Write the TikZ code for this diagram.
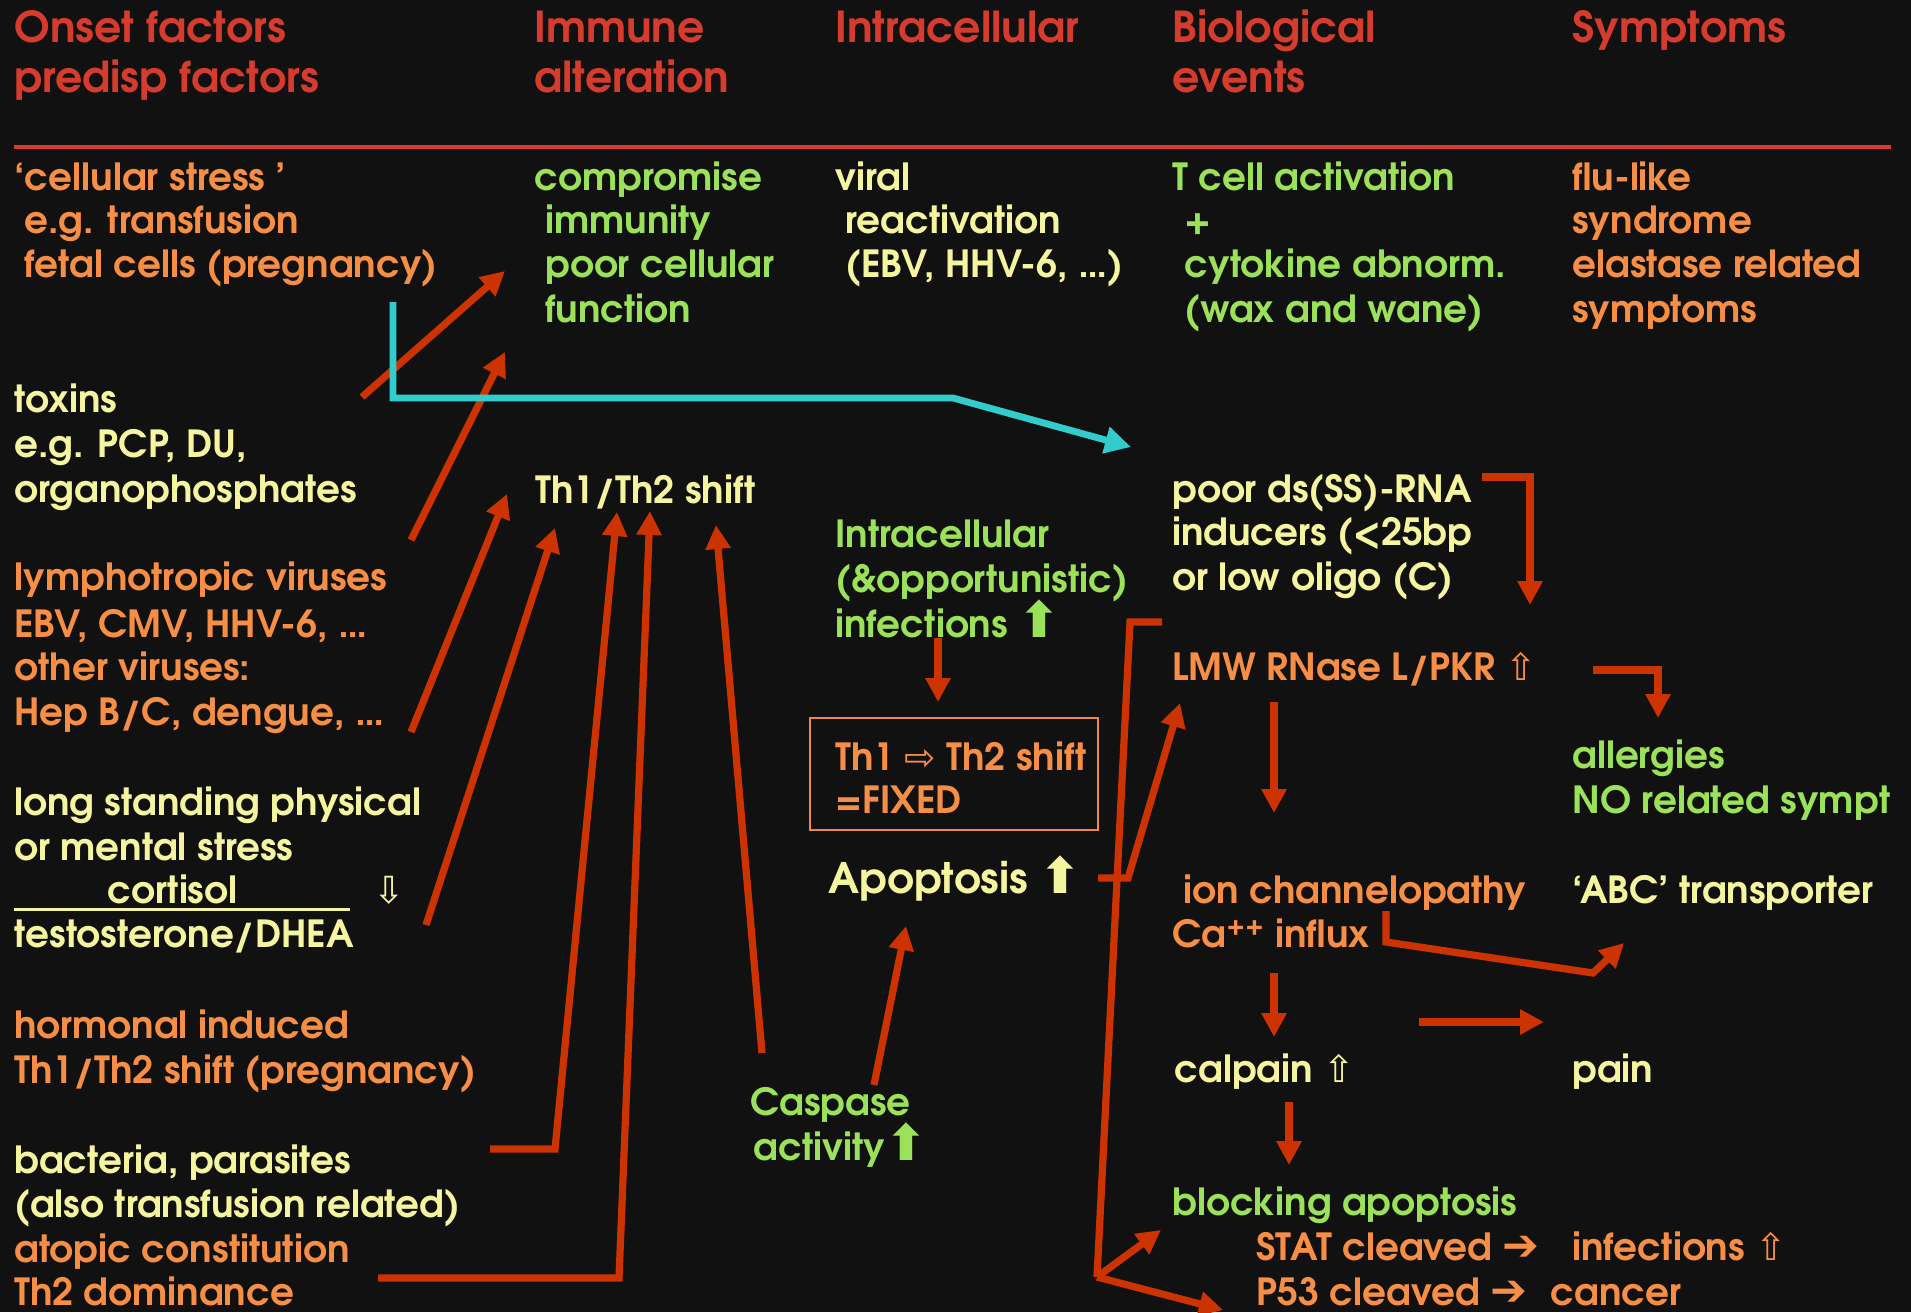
\documentclass[tikz,border=0pt]{standalone}
\usepackage{fontspec}
\setmainfont{texgyreadventor}[Extension=.otf, UprightFont=*-regular, BoldFont=*-bold, ItalicFont=*-italic, BoldItalicFont=*-bolditalic]
\newfontfamily\symf{DejaVu Sans}
\usetikzlibrary{arrows.meta}
\definecolor{bgc}{HTML}{111111}
\definecolor{hdrc}{HTML}{D63C2E}
\definecolor{orgc}{HTML}{F78E45}
\definecolor{yelc}{HTML}{F5F5A0}
\definecolor{grnc}{HTML}{9BE15A}
\definecolor{arrc}{HTML}{CC3300}
\definecolor{cyac}{HTML}{33CCCC}
\definecolor{boxc}{HTML}{F08A40}
\newcommand{\thk}{{\symf\bfseries\fontsize{25}{25}\selectfont ⬆}}
\newcommand{\hvy}{{\symf\bfseries\fontsize{22}{22}\selectfont ➔}}
\tikzset{
  txt/.style={anchor=base west, inner sep=0pt, font=\bfseries\fontsize{18.7}{22}\selectfont},
  hd/.style={txt, text=hdrc, font=\bfseries\fontsize{21.3}{25}\selectfont},
  org/.style={txt, text=orgc},
  yel/.style={txt, text=yelc},
  grn/.style={txt, text=grnc},
  big/.style={font=\bfseries\fontsize{21}{25}\selectfont},
  ar/.style={draw=arrc, line width=3.6pt, -{Triangle[length=12pt,width=12pt]}},
  ln/.style={draw=arrc, line width=3.6pt},
  cy/.style={draw=cyac, line width=3.4pt, -{Triangle[length=13pt,width=13pt]}},
}
\begin{document}
\begin{tikzpicture}[x=0.5pt,y=-0.5pt]
\fill[bgc] (0,0) rectangle (1911,1312);
\useasboundingbox (0,0) rectangle (1911,1312);
% headers
\node[hd] (h1a) at (14,42) {Onset factors};
\node[hd] (h1b) at (14,92) {predisp factors};
\node[hd] (h2a) at (534,42) {Immune};
\node[hd] (h2b) at (534,92) {alteration};
\node[hd] (h3) at (835,42) {Intracellular};
\node[hd] (h4a) at (1172,42) {Biological};
\node[hd] (h4b) at (1172,92) {events};
\node[hd] (h5) at (1572,42) {Symptoms};
\draw[hdrc, line width=1.6pt] (14,147) -- (1891,147);
% column 1
\node[org] (a1) at (14,190) {‘cellular stress ’};
\node[org] (a2) at (24,233) {e.g. transfusion};
\node[org] (a3) at (24,277) {fetal cells (pregnancy)};
\node[yel] (b1) at (14,412) {toxins};
\node[yel] (b2) at (14,457) {e.g. PCP, DU,};
\node[yel] (b3) at (14,502) {organophosphates};
\node[org] (c1) at (14,590) {lymphotropic viruses};
\node[org] (c2) at (14,637) {EBV, CMV, HHV-6, \dots};
\node[org] (c3) at (14,680) {other viruses:};
\node[org] (c4) at (14,725) {Hep B/C, dengue, \dots};
\node[yel] (d1) at (14,815) {long standing physical};
\node[yel] (d2) at (14,860) {or mental stress};
\node[yel] (d3) at (107,903) {cortisol};
\draw[yelc, line width=1.5pt] (14,909) -- (350,909);
\node[yel] (d3a) at (373,903) {\symf\mdseries ⇩};
\node[yel] (d4) at (14,947) {testosterone/DHEA};
\node[org] (e1) at (14,1038) {hormonal induced};
\node[org] (e2) at (14,1083) {Th1/Th2 shift (pregnancy)};
\node[yel] (f1) at (14,1173) {bacteria, parasites};
\node[yel] (f2) at (14,1217) {(also transfusion related)};
\node[org] (g1) at (14,1262) {atopic constitution};
\node[org] (g2) at (14,1305) {Th2 dominance};
% column 2
\node[grn] (i1) at (534,190) {compromise};
\node[grn] (i2) at (545,233) {immunity};
\node[grn] (i3) at (545,277) {poor cellular};
\node[grn] (i4) at (545,322) {function};
\node[yel] (th) at (535,503) {Th1/Th2 shift};
% column 3
\node[yel] (v1) at (835,190) {viral};
\node[yel] (v2) at (845,233) {reactivation};
\node[yel] (v3) at (845,277) {(EBV, HHV-6, \dots)};
\node[grn] (n1) at (835,547) {Intracellular};
\node[grn] (n2) at (835,592) {(\&opportunistic)};
\node[grn] (n3) at (835,637) {infections \thk};
\draw[boxc, line width=1.2pt] (810,718) rectangle (1098,830);
\node[org] (fx1) at (835,770) {Th1 {\symf\mdseries ⇨} Th2 shift};
\node[org] (fx2) at (835,813) {=FIXED};
\node[yel,big] (ap) at (828,893) {Apoptosis \thk};
\node[grn] (cp1) at (750,1115) {Caspase};
\node[grn] (cp2) at (753,1160) {activity\thk};
% column 4
\node[grn] (t1) at (1172,190) {T cell activation};
\node[grn] (t2) at (1184,233) {+};
\node[grn] (t3) at (1184,277) {cytokine abnorm.};
\node[grn] (t4) at (1184,322) {(wax and wane)};
\node[yel] (p1) at (1172,502) {poor ds(SS)-RNA};
\node[yel] (p2) at (1172,545) {inducers (<25bp};
\node[yel] (p3) at (1172,590) {or low oligo (C)};
\node[org] (l1) at (1172,680) {LMW RNase L/PKR {\symf\mdseries ⇧}};
\node[org] (ic) at (1183,903) {ion channelopathy};
\node[org] (ca) at (1172,947) {Ca\textsuperscript{++} influx};
\node[yel] (cl) at (1174,1082) {calpain {\symf\mdseries ⇧}};
\node[grn] (bl) at (1172,1215) {blocking apoptosis};
\node[org] (st) at (1256,1260) {STAT cleaved \hvy};
\node[org] (p53) at (1256,1305) {P53 cleaved \hvy};
\node[org] (inf) at (1572,1260) {infections {\symf\mdseries ⇧}};
\node[org] (can) at (1550,1305) {cancer};
% column 5
\node[org] (s1) at (1572,190) {flu-like};
\node[org] (s2) at (1572,233) {syndrome};
\node[org] (s3) at (1572,277) {elastase related};
\node[org] (s4) at (1572,322) {symptoms};
\node[grn] (al1) at (1572,768) {allergies};
\node[grn] (al2) at (1572,813) {NO related sympt};
\node[yel] (abc) at (1572,903) {‘ABC’ transporter};
\node[yel] (pain) at (1572,1082) {pain};
% connector end points
\coordinate (k1s) at (362,397);  \coordinate (k1e) at (505,271);
\coordinate (k2s) at (411,540);  \coordinate (k2e) at (505,352);
\coordinate (k3s) at (411,732);  \coordinate (k3e) at (507,494);
\coordinate (k4s) at (426,925);  \coordinate (k4e) at (555,528);
\coordinate (k5s) at (490,1149); \coordinate (k5m) at (555,1149); \coordinate (k5e) at (617,512);
\coordinate (k6s) at (378,1278); \coordinate (k6m) at (619,1278); \coordinate (k6e) at (650,511);
\coordinate (k7s) at (762,1053); \coordinate (k7e) at (716,525);
\coordinate (k8s) at (874,1085); \coordinate (k8e) at (906,926);
\coordinate (k9s) at (938,638);  \coordinate (k9e) at (938,702);
\coordinate (kAs) at (1162,622); \coordinate (kAm) at (1130,622); \coordinate (kAj) at (1097,1277);
\coordinate (kAe1) at (1161,1230); \coordinate (kAe2) at (1223,1310);
\coordinate (kBs) at (1098,878); \coordinate (kBm) at (1128,878); \coordinate (kBe) at (1180,703);
\coordinate (kCs) at (393,302);  \coordinate (kCm1) at (393,398); \coordinate (kCm2) at (953,398); \coordinate (kCe) at (1131,447);
\coordinate (kDs) at (1482,477); \coordinate (kDm) at (1530,477); \coordinate (kDe) at (1530,605);
\coordinate (kEs) at (1274,702); \coordinate (kEe) at (1274,813);
\coordinate (kFs) at (1593,670); \coordinate (kFm) at (1658,670); \coordinate (kFe) at (1658,718);
\coordinate (kGs) at (1386,911); \coordinate (kGm1) at (1386,942); \coordinate (kGm2) at (1593,973); \coordinate (kGe) at (1624,943);
\coordinate (kHs) at (1274,973); \coordinate (kHe) at (1274,1037);
\coordinate (kIs) at (1419,1022); \coordinate (kIe) at (1544,1022);
\coordinate (kJs) at (1289,1102); \coordinate (kJe) at (1289,1165);
% connectors
\draw[ar] (k1s) -- (k1e);
\draw[ar] (k2s) -- (k2e);
\draw[ar] (k3s) -- (k3e);
\draw[ar] (k4s) -- (k4e);
\draw[ar] (k5s) -- (k5m) -- (k5e);
\draw[ar] (k6s) -- (k6m) -- (k6e);
\draw[ar] (k7s) -- (k7e);
\draw[ar] (k8s) -- (k8e);
\draw[ar] (k9s) -- (k9e);
\draw[ln] (kAs) -- (kAm) -- (kAj);
\draw[ar] (kAj) -- (kAe1);
\draw[ar] (kAj) -- (kAe2);
\draw[ar] (kBs) -- (kBm) -- (kBe);
\draw[cy] (kCs) -- (kCm1) -- (kCm2) -- (kCe);
\draw[ar] (kDs) -- (kDm) -- (kDe);
\draw[ar] (kEs) -- (kEe);
\draw[ar] (kFs) -- (kFm) -- (kFe);
\draw[ar] (kGs) -- (kGm1) -- (kGm2) -- (kGe);
\draw[ar] (kHs) -- (kHe);
\draw[ar] (kIs) -- (kIe);
\draw[ar] (kJs) -- (kJe);
\end{tikzpicture}
\end{document}
